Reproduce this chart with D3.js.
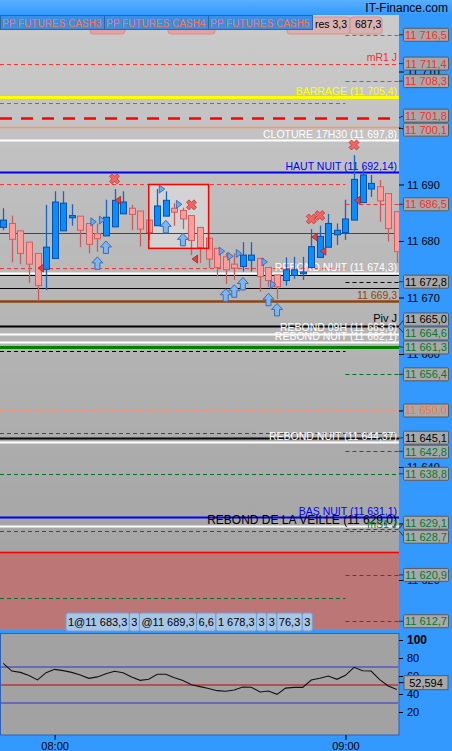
<!DOCTYPE html>
<html><head><meta charset="utf-8">
<script src="https://cdn.jsdelivr.net/npm/d3@7/dist/d3.min.js"></script>
<style>html,body{margin:0;padding:0;background:#3399ff;overflow:hidden}svg{display:block;font-family:"Liberation Sans",Arial,sans-serif}</style>
</head><body><svg id="c" width="452" height="751"></svg>
<script>
// ---------- DATA ----------
const candleOpen  = [11682.4,11683.1,11681.8,11679.8,11677.8,11675.0,11676.9,11681.8,11684.1,11684.4,11683.1,11681.3,11680.9,11682.5,11684.8,11685.8,11685.3,11683.7,11682.7,11684.4,11685.8,11685.4,11684.5,11682.4,11680.5,11678.7,11677.2,11675.9,11675.5,11676.6,11676.9,11675.3,11674.0,11673.0,11673.9,11674.2,11675.3,11677.1,11678.9,11681.1,11681.5,11683.7,11686.8,11689.2,11689.6,11688.4,11685.2];
const candleHigh  = [11685.8,11684.5,11681.8,11679.8,11677.8,11686.4,11688.8,11688.8,11686.5,11684.4,11683.1,11683.1,11687.3,11689.2,11688.8,11686.4,11685.3,11683.7,11689.2,11688.8,11686.7,11685.9,11684.5,11682.4,11680.5,11678.7,11677.9,11677.8,11679.8,11679.8,11676.9,11675.3,11674.0,11677.1,11677.2,11677.2,11682.1,11682.7,11684.8,11683.1,11687.3,11695.2,11693.2,11691.7,11690.8,11688.4,11685.2];
const candleLow   = [11681.9,11676.2,11675.9,11672.6,11669.4,11671.3,11676.9,11681.8,11682.7,11678.9,11677.8,11678.1,11680.9,11682.5,11684.8,11681.9,11679.0,11680.2,11682.7,11684.4,11682.7,11682.1,11677.5,11676.1,11675.2,11673.7,11672.4,11673.1,11674.6,11674.6,11671.0,11671.9,11669.7,11672.1,11673.3,11673.1,11675.3,11677.1,11678.9,11679.3,11680.2,11683.7,11686.8,11687.8,11683.4,11679.9,11676.1];
const candleClose = [11683.7,11680.3,11677.8,11675.9,11672.1,11678.9,11686.9,11686.7,11684.5,11681.9,11679.4,11680.4,11684.2,11687.2,11686.9,11684.7,11682.1,11681.5,11686.2,11687.2,11685.1,11683.9,11680.1,11678.8,11676.8,11675.3,11674.9,11675.2,11677.5,11677.5,11673.7,11673.0,11671.9,11674.9,11674.9,11674.5,11679.0,11680.8,11683.1,11681.9,11683.9,11690.9,11691.7,11690.2,11687.1,11682.2,11678.1];

const timeTickLabels = ["08:00","09:00"];
const timeTickIndex  = [6, 40];
const priceTicks = [11620,11630,11640,11650,11660,11670,11680,11690,11700,11710];

// horizontal levels
const levelPrice   = [11716.5,11711.4,11708.3,11705.4,11704.5,11701.8,11700.1,11697.8,11692.14,11690.0,11686.5,11681.4,11675.2,11674.0,11674.3,11672.8,11671.6,11669.3,11665.0,11663.6,11662.1,11661.3,11660.5,11656.4,11650.0,11646.0,11645.1,11644.37,11642.8,11638.8,11631.1,11629.5,11629.1,11628.7,11625.0,11620.9,11616.8,11612.7];
const levelKind    = ["redDash","redDash","redDash","yellow","redDash","redLong","salmon","white","blue","redDash","redDash","green","redDash","black","white","blackDash","black","brown","blackThick","white","white","greenThick","blackDash","greenDash","salmonDash","greenDash","blackThick","white","greenDash","greenDash","blue","white","greenDash","greenDash","red","greenDash","greenDash","greenDash"];
const levelSession = ["day","all","day","all","night","all","all","all","all","night","day","all","night","all","all","day","all","all","all","all","all","all","night","day","all","all","all","all","day","all","all","all","day","all","all","day","night","day"];

// text annotations
const annoText  = ["mR1 J","BARRAGE (11 705,4)","CLOTURE 17H30 (11 697,8)","HAUT NUIT (11 692,14)","REBOND NUIT (11 674,3)","11 669,3","Piv J","REBOND 09H (11 663,6)","REBOND NUIT (11 662,1)","REBOND NUIT (11 644,37)","BAS NUIT (11 631,1)","REBOND DE LA VEILLE (11 629,0)","mS1 J"];
const annoPrice = [11711.4,11705.4,11697.8,11692.14,11674.3,11669.3,11665.0,11663.6,11662.1,11644.37,11631.1,11629.0,11628.7];
const annoColor = ["red","yellow","white","blue","white","brown","black","white","white","white","blue","black","green"];
const annoSize  = [10.5,10.5,10.5,10.5,10.5,10.5,11,10.5,10.5,10.5,10.5,12,10.5];

// right-axis value tags
const tagValue = [11716.5,11711.4,11708.3,11701.8,11700.1,11686.5,11672.8,11665.0,11664.6,11661.3,11656.4,11650.0,11645.1,11642.8,11638.8,11629.1,11628.7,11620.9,11612.7];
const tagColor = ["red","red","red","red","red","red","black","black","green","green","green","orange","black","green","green","green","green","green","green"];

// markers
const crossIdx = [13,22,36,37,41];
const crossPrice = [11691.0,11686.4,11683.9,11684.5,11697.0];
const arrowIdx = [11,12,19,21,26,27,28,31,32];
const arrowPrice = [11676.05,11678.85,11682.5,11680.2,11670.4,11671.1,11672.4,11669.6,11667.8];
const rightTriIdx = [10,11,18,20,25,26,27,30,31];
const rightTriPrice = [11683.4,11683.7,11689.2,11686.5,11678.2,11677.3,11677.8,11676.3,11672.3];
const leftTriIdx = [5,14,23,37,38,42];
const leftTriPrice = [11675.2,11687.2,11676.8,11680.7,11678.2,11687.2];

const highlightFrom = 17, highlightTo = 24, highlightHigh = 11690.0, highlightLow = 11678.7;
const redZoneTop = 11625.0;

// oscillator
const oscValues = [74,65.5,64,60.5,55.6,63.7,67.4,66,64,61,57.4,59,62.5,65.2,63.7,59,55.2,56.3,61.9,61.9,58,55,50.2,48.2,46.2,43.7,43,44.5,47.8,47.5,42.2,43.3,39.6,46.5,47.4,47.4,55.6,57.5,60,56.3,60.7,69.6,65.9,65.5,56,49,45];
const oscLevels = [70,50,30];
const oscLevelKind = ["blue","red","blue"];
const oscTicks = [20,40,60,80,100];
const oscLast = 52.594;

const topTabs = ["PP FUTURES CASH3","PP FUTURES CASH4","PP FUTURES CASH5"];
const hiddenTabs = ["res 3,3","687,3"];
const bottomTabs = ["1@11 683,3","3","@11 689,3","6,6","1 678,3","3","3","76,3","3"];
const brand = "IT-Finance.com";

// ---------- STYLES ----------
const colors = {red:"#ff2a2a",yellow:"#ffff00",white:"#ffffff",blue:"#0000ff",brown:"#8b4513",black:"#000000",green:"#007a30",orange:"#ff7040"};
const lineStyle = {
  redDash:{c:"#ff3535",w:1,d:"4,3"}, redLong:{c:"#ff0000",w:2.5,d:"12,9"}, red:{c:"#ff0000",w:1.5},
  salmon:{c:"#ff8f6a",w:1.5}, salmonDash:{c:"#ff8f6a",w:1,d:"4,3"}, yellow:{c:"#ffff00",w:3},
  white:{c:"#ffffff",w:2}, blue:{c:"#0000ff",w:2}, green:{c:"#007800",w:1}, greenThick:{c:"#008000",w:3},
  greenDash:{c:"#00702e",w:1,d:"4,3"}, blackDash:{c:"#000",w:1,d:"4,3"}, black:{c:"#000",w:1},
  blackThick:{c:"#000",w:2}, brown:{c:"#8b4513",w:2.5}
};

// ---------- LAYOUT ----------
const plotR = 399, plotT = 15, plotB = 630;
const svg = d3.select("#c");
const x = d3.scaleLinear().domain([0,46]).range([3.3,396.8]);
const y = d3.scaleLinear().domain([11611.15,11720]).range([plotB,plotT]);
const yo = d3.scaleLinear().domain([0,100]).range([730,640]);
const loc = d3.formatLocale({decimal:",",thousands:" ",grouping:[3],currency:["",""]});
const fTick = loc.format(",d"), fVal = loc.format(",.1f"), fOsc = loc.format(".3f");

const defs = svg.append("defs");
const g1 = defs.append("linearGradient").attr("id","bg").attr("gradientUnits","userSpaceOnUse").attr("x1",0).attr("x2",0).attr("y1",plotT).attr("y2",560);
g1.append("stop").attr("offset",0).attr("stop-color","#cbcbcb");
g1.append("stop").attr("offset",1).attr("stop-color","#a4a4a4");
const g2 = defs.append("linearGradient").attr("id","tb").attr("x1",0).attr("x2",0).attr("y1",0).attr("y2",1);
g2.append("stop").attr("offset",0).attr("stop-color","#58b0ff");
g2.append("stop").attr("offset",1).attr("stop-color","#3399ff");
defs.append("clipPath").attr("id","clip").append("rect").attr("x",0).attr("y",plotT).attr("width",plotR).attr("height",plotB-plotT);

svg.append("rect").attr("width",452).attr("height",751).attr("fill","#3399ff");
svg.append("rect").attr("width",452).attr("height",plotT).attr("fill","url(#tb)");
svg.append("text").attr("x",448).attr("y",12).attr("text-anchor","end").attr("font-size",12).attr("fill","#000").text(brand);

const plot = svg.append("g").attr("clip-path","url(#clip)");
plot.append("rect").attr("x",0).attr("y",plotT).attr("width",plotR).attr("height",plotB-plotT).attr("fill","url(#bg)");
plot.append("rect").attr("x",0).attr("y",y(redZoneTop)).attr("width",plotR).attr("height",plotB-y(redZoneTop)).attr("fill","#bd7676");

// highlight box fill
const hb = {x1:x(highlightFrom),x2:x(highlightTo),y1:y(highlightHigh),y2:y(highlightLow)};
plot.append("rect").attr("x",hb.x1).attr("y",hb.y1).attr("width",hb.x2-hb.x1).attr("height",hb.y2-hb.y1).attr("fill","#d3d3d3");

// levels
const splitX = x(timeTickIndex[1]);
plot.selectAll("line.lvl").data(levelPrice).join("line").attr("class","lvl")
  .attr("x1",(d,i)=>levelSession[i]==="day"?splitX:0)
  .attr("x2",(d,i)=>levelSession[i]==="night"?splitX:plotR)
  .attr("y1",d=>Math.round(y(d))+0.5).attr("y2",d=>Math.round(y(d))+0.5)
  .attr("stroke",(d,i)=>lineStyle[levelKind[i]].c)
  .attr("stroke-width",(d,i)=>lineStyle[levelKind[i]].w)
  .attr("stroke-dasharray",(d,i)=>lineStyle[levelKind[i]].d||null);

// annotations
plot.selectAll("text.anno").data(annoText).join("text").attr("class","anno")
  .attr("x",plotR-2).attr("text-anchor","end")
  .attr("y",(d,i)=>y(annoPrice[i]) - 2.5 - (annoSize[i]-10.5)*2)
  .attr("font-size",(d,i)=>annoSize[i]).attr("fill",(d,i)=>colors[annoColor[i]]).text(d=>d);

// candles
const idx = d3.range(candleOpen.length);
const cg = plot.append("g");
cg.selectAll("line.wick").data(idx).join("line").attr("class","wick")
  .attr("x1",i=>Math.round(x(i))+0.5).attr("x2",i=>Math.round(x(i))+0.5)
  .attr("y1",i=>y(candleHigh[i])).attr("y2",i=>y(candleLow[i]))
  .attr("stroke",i=>candleClose[i]>=candleOpen[i]?"#1466c8":"#cc5c5c").attr("stroke-width",1.3);
cg.selectAll("rect.body").data(idx).join("rect").attr("class","body")
  .attr("x",i=>Math.round(x(i))-2.5).attr("width",6)
  .attr("y",i=>y(Math.max(candleOpen[i],candleClose[i])))
  .attr("height",i=>Math.max(1.5,Math.abs(y(candleOpen[i])-y(candleClose[i]))))
  .attr("fill",i=>candleClose[i]>=candleOpen[i]?"#0a8bff":"#ff9c9c")
  .attr("stroke",i=>candleClose[i]>=candleOpen[i]?"#0052aa":"#d05f5f").attr("stroke-width",1);

// highlight border
plot.append("rect").attr("x",hb.x1).attr("y",hb.y1).attr("width",hb.x2-hb.x1).attr("height",hb.y2-hb.y1).attr("fill","none").attr("stroke","#ff0000").attr("stroke-width",1.5);

// markers
const mg = plot.append("g");
mg.selectAll("path.arrow").data(arrowIdx).join("path")
  .attr("transform",(d,i)=>`translate(${x(d)},${y(arrowPrice[i])})`)
  .attr("d","M0,-6.5L5.5,-0.5L2.5,-0.5L2.5,6L-2.5,6L-2.5,-0.5L-5.5,-0.5Z")
  .attr("fill","#80b6ee").attr("stroke","#3a6db5").attr("stroke-width",1);
mg.selectAll("path.rt").data(rightTriIdx).join("path")
  .attr("transform",(d,i)=>`translate(${x(d)+4.5},${y(rightTriPrice[i])})`)
  .attr("d","M-2.5,-4L3,0L-2.5,4Z").attr("fill","#6aa8ea").attr("stroke","#2a5fb0").attr("stroke-width",0.8);
mg.selectAll("path.lt").data(leftTriIdx).join("path")
  .attr("transform",(d,i)=>`translate(${x(d)-5},${y(leftTriPrice[i])})`)
  .attr("d","M2.5,-4L-3,0L2.5,4Z").attr("fill","#e84040").attr("stroke","#a82020").attr("stroke-width",0.8);
mg.selectAll("path.cross").data(crossIdx).join("path")
  .attr("transform",(d,i)=>`translate(${x(d)},${y(crossPrice[i])}) rotate(45)`)
  .attr("d",d3.symbol(d3.symbolCross,62)())
  .attr("fill","#f06464").attr("stroke","#c03a3a").attr("stroke-width",0.8);

// bottom info tabs
const bt = svg.append("g");
let bx = 66;
bottomTabs.forEach(t=>{
  const gg = bt.append("g");
  const r = gg.append("rect").attr("y",613).attr("height",18).attr("rx",2).attr("fill","#a9c5e6").attr("stroke","#6e9fd8");
  const tx = gg.append("text").attr("x",bx+2).attr("y",625.5).attr("font-size",11).attr("fill","#000").text(t);
  const w = tx.node().getComputedTextLength()+4;
  r.attr("x",bx).attr("width",w);
  bx += w;
});

// top hidden pink boxes and tabs
const th = svg.append("g");
[[90,35],[168,47]].forEach(b=>th.append("rect").attr("x",b[0]).attr("y",17).attr("width",b[1]).attr("height",17).attr("rx",3).attr("fill","#e3a2a2").attr("stroke","#e08a8a"));
th.append("rect").attr("x",287).attr("y",17).attr("width",63).attr("height",17).attr("rx",3).attr("fill","#d9b1b1").attr("stroke","#e08a8a");
th.append("rect").attr("x",350).attr("y",17).attr("width",32).attr("height",17).attr("rx",3).attr("fill","#d9b1b1").attr("stroke","#e08a8a");
th.append("text").attr("x",347).attr("y",27.5).attr("text-anchor","end").attr("font-size",10.5).text(hiddenTabs[0]);
th.append("text").attr("x",355).attr("y",27.5).attr("font-size",10.5).text(hiddenTabs[1]);
topTabs.forEach((t,i)=>{
  th.append("rect").attr("x",i*104+0.5).attr("y",15.5).attr("width",104).attr("height",14).attr("fill","#3a8fe4").attr("stroke","#2467b8");
  th.append("text").attr("x",i*104+2).attr("y",26.5).attr("font-size",10).attr("fill","#ff7440").text(t);
});

// value tags with collision avoidance
const tags = tagValue.map((v,i)=>({v,c:tagColor[i],y0:y(v),y:y(v)})).sort((a,b)=>a.y0-b.y0);
for(let k=0;k<60;k++){for(let i=1;i<tags.length;i++){const gap=tags[i].y-tags[i-1].y;if(gap<14){const s=(14-gap)/2;tags[i].y+=s;tags[i-1].y-=s;}}}

// right price axis (labels fully hidden under a tag are not drawn)
const shownTicks = priceTicks.filter(p=>!tags.some(t=>Math.abs(t.y-y(p))<4.5));
const ax = svg.append("g").attr("transform",`translate(${plotR},0)`)
  .call(d3.axisRight(y).tickValues(priceTicks).tickFormat(d=>shownTicks.includes(d)?fTick(d):"").tickSize(5).tickPadding(3));
ax.select(".domain").remove();
ax.selectAll("text").attr("font-size",11).attr("fill","#000").attr("font-family","Liberation Sans, Arial");
ax.selectAll("line").attr("stroke","#000");

const tg = svg.append("g");
tags.forEach(t=>{
  tg.append("line").attr("x1",plotR).attr("x2",404).attr("y1",t.y0).attr("y2",t.y).attr("stroke","#333");
  tg.append("rect").attr("x",403.5).attr("y",t.y-6.5).attr("width",45).attr("height",13).attr("rx",1).attr("fill","#a8a8a8").attr("stroke","#5a5a5a");
  tg.append("text").attr("x",426).attr("y",t.y+4).attr("text-anchor","middle").attr("font-size",11).attr("fill",colors[t.c]).text(fVal(t.v));
});

// oscillator panel
svg.append("rect").attr("x",0.5).attr("y",633.5).attr("width",plotR-0.5).attr("height",101.5).attr("fill","#a2a2a2").attr("stroke","#2a62c4");
const oscColors = {blue:"#3030d0",red:"#c00000"};
svg.selectAll("line.ol").data(oscLevels).join("line").attr("class","ol")
  .attr("x1",1).attr("x2",plotR-1).attr("y1",d=>yo(d)).attr("y2",d=>yo(d))
  .attr("stroke",(d,i)=>oscColors[oscLevelKind[i]]).attr("stroke-width",1);
svg.append("path").datum(oscValues).attr("fill","none").attr("stroke","#111").attr("stroke-width",1.1)
  .attr("d",d3.line().x((d,i)=>x(i)).y(d=>yo(d)));
const oax = svg.append("g").attr("transform",`translate(${plotR},0)`)
  .call(d3.axisRight(yo).tickValues(oscTicks).tickSize(4).tickPadding(4));
oax.select(".domain").remove();
oax.selectAll("text").attr("fill","#000").attr("font-family","Liberation Sans, Arial")
  .attr("font-weight",d=>d===100?"bold":"normal").attr("font-size",d=>d===100?12:11);
oax.selectAll("line").attr("stroke","#000");
svg.append("line").attr("x1",plotR).attr("x2",404).attr("y1",yo(oscLast)).attr("y2",yo(oscLast)).attr("stroke","#000");
svg.append("rect").attr("x",404).attr("y",yo(oscLast)-7).attr("width",44).attr("height",14).attr("fill","#a8a8a8").attr("stroke","#5a5a5a");
svg.append("text").attr("x",426).attr("y",yo(oscLast)+4).attr("text-anchor","middle").attr("font-size",11).text(fOsc(oscLast));

// time axis
const tax = svg.append("g").attr("transform","translate(0,735)")
  .call(d3.axisBottom(x).tickValues(timeTickIndex).tickFormat((d,i)=>timeTickLabels[i]).tickSize(5).tickPadding(2));
tax.select(".domain").remove();
tax.selectAll("text").attr("font-size",11).attr("fill","#000").attr("font-family","Liberation Sans, Arial");
tax.selectAll("line").attr("stroke","#000");
</script></body></html>
